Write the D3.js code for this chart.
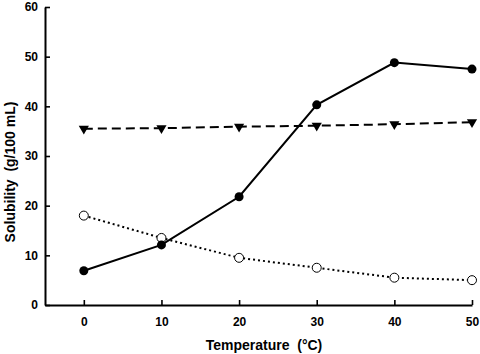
<!DOCTYPE html>
<html>
<head>
<meta charset="utf-8">
<script src="https://cdn.jsdelivr.net/npm/d3@7"></script>
<style>
body { margin: 0; background: #fff; }
svg text { font-family: "Liberation Sans", Arial, sans-serif; font-weight: bold; fill: #000; white-space: pre; }
</style>
</head>
<body>
<svg id="chart" width="480" height="354"></svg>
<script>
var temps = [0, 10, 20, 30, 40, 50]
var solidSeries = [6.9, 12.1, 21.8, 40.3, 48.8, 47.5]
var triangleSeries = [35.5, 35.6, 35.9, 36.1, 36.4, 36.8]
var openSeries = [18.0, 13.5, 9.5, 7.5, 5.5, 5.0]
var xTicks = [0, 10, 20, 30, 40, 50]
var yTicks = [0, 10, 20, 30, 40, 50, 60]

var svg = d3.select('#chart')

var x = d3.scaleLinear().domain([-5, 50]).range([45, 472])
var y = d3.scaleLinear().domain([0, 60]).range([305, 7])

// axes
svg.append('g')
    .attr('transform', 'translate(0,305)')
    .call(d3.axisBottom(x).tickValues(xTicks).tickSizeInner(-5).tickSizeOuter(0).tickPadding(12))
svg.append('g')
    .attr('transform', 'translate(45,0)')
    .call(d3.axisLeft(y).tickValues(yTicks).tickSizeInner(-5).tickSizeOuter(0).tickPadding(7))

svg.selectAll('.domain').attr('stroke', '#000').attr('stroke-width', 2)
svg.selectAll('.tick line').attr('stroke', '#000').attr('stroke-width', 1.6)
svg.selectAll('.tick text').style('font-size', '12px')

svg.append('text')
    .attr('x', 264).attr('y', 350)
    .attr('text-anchor', 'middle')
    .style('font-size', '14px')
    .text('Temperature  (°C)')

svg.append('text')
    .attr('transform', 'translate(15,172) rotate(-90)')
    .attr('text-anchor', 'middle')
    .style('font-size', '14px')
    .text('Solubility  (g/100 mL)')

function drawLine(vals, dash) {
    var line = d3.line()
        .x((d, i) => x(temps[i]))
        .y((d) => y(d))
    svg.append('path')
        .attr('d', line(vals))
        .attr('fill', 'none')
        .attr('stroke', '#000')
        .attr('stroke-width', 2)
        .attr('stroke-dasharray', dash)
}

drawLine(openSeries, '2,3')
drawLine(triangleSeries, '9,5')
drawLine(solidSeries, null)

// markers
svg.selectAll('.openDot').data(openSeries).enter().append('circle')
    .attr('cx', (d, i) => x(temps[i]))
    .attr('cy', (d) => y(d))
    .attr('r', 4.5)
    .attr('fill', '#fff')
    .attr('stroke', '#000')
    .attr('stroke-width', 1)

svg.selectAll('.tri').data(triangleSeries).enter().append('path')
    .attr('d', d3.symbol().type(d3.symbolTriangle).size(45))
    .attr('transform', (d, i) => 'translate(' + x(temps[i]) + ',' + y(d) + ') rotate(180)')
    .attr('fill', '#000')

svg.selectAll('.solidDot').data(solidSeries).enter().append('circle')
    .attr('cx', (d, i) => x(temps[i]))
    .attr('cy', (d) => y(d))
    .attr('r', 4.5)
    .attr('fill', '#000')
</script>
</body>
</html>
